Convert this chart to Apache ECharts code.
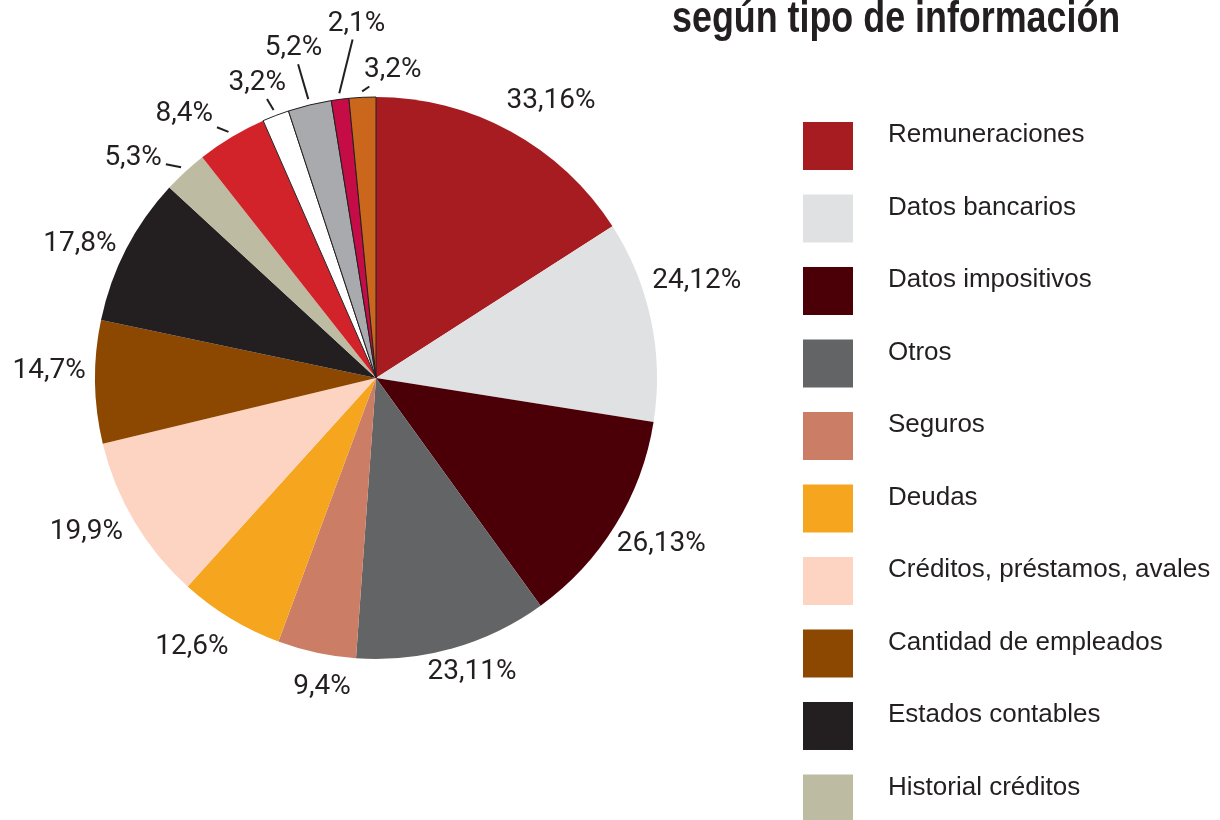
<!DOCTYPE html>
<html>
<head>
<meta charset="utf-8">
<script src="https://cdn.jsdelivr.net/npm/echarts@6/dist/echarts.min.js"></script>
<style>
  html, body { margin: 0; padding: 0; background: #fff; }
  #chart { width: 1220px; height: 820px; }
</style>
</head>
<body>
<div id="chart"></div>
<script>
const categories = [
    'Remuneraciones', 'Datos bancarios', 'Datos impositivos', 'Otros', 'Seguros',
    'Deudas', 'Créditos, préstamos, avales', 'Cantidad de empleados', 'Estados contables',
    'Historial créditos', 'Categoría 11', 'Categoría 12', 'Categoría 13', 'Categoría 14', 'Categoría 15'
];
const values = [33.16, 24.12, 26.13, 23.11, 9.4, 12.6, 19.9, 14.7, 17.8, 5.3, 8.4, 3.2, 5.2, 2.1, 3.2];
// solo las 10 primeras aparecen en la leyenda
const legendNames = categories.slice(0, 10);

const colors = [
    '#A71C20', '#E0E1E3', '#4B0008', '#636466', '#CC7D66',
    '#F6A51F', '#FDD3C1', '#8C4700', '#231F20', '#BDBBA2',
    '#D2232A', '#FFFFFF', '#A8AAAD', '#C60C46', '#CB671C'
];
// ajuste de etiquetas: [desvío de ángulo en grados, distancia fuera del borde en px]
const labelNudge = [
    [3.6, 47], [-4.9, 54], [-1.4, 49], [-2.2, 28], [-2.3, 33],
    [3.2, 45], [2.7, 47], [2.0, 46], [-2.9, 44], [-5.0, 47],
    [-5.1, 45], [-1.0, 37], [-0.4, 59], [4.2, 74], [5.9, 27]
];
const withLine = [9, 10, 11, 12, 13, 14];
const outlined = [11, 12, 13, 14];

const ink = '#231F20';
const chart = echarts.init(document.getElementById('chart'));

const pieData = categories.map((name, i) => {
    const item = { name, value: values[i], itemStyle: { color: colors[i] } };
    if (outlined.includes(i)) {
        item.itemStyle.borderColor = ink;
        item.itemStyle.borderWidth = 1;
    }
    if (withLine.includes(i)) {
        item.labelLine = { show: true };
    }
    return item;
});

chart.setOption({
    animation: false,
    backgroundColor: '#fff',
    graphic: [{
        type: 'text',
        x: 672,
        y: 20,
        scaleX: 0.815,
        style: {
            text: 'según tipo de información',
            font: 'bold 44px "Liberation Sans", Arial, sans-serif',
            fill: ink,
            align: 'left',
            verticalAlign: 'middle'
        }
    }],
    tooltip: { trigger: 'item' },
    legend: {
        data: legendNames,
        orient: 'vertical',
        left: 803,
        top: 122,
        height: 730,
        padding: 0,
        itemWidth: 50,
        itemHeight: 48,
        itemGap: 24.5,
        icon: 'rect',
        selectedMode: false,
        // segunda línea vacía: sube el texto respecto al cuadrado
        formatter: (name) => name + '\n ',
        textStyle: {
            fontFamily: '"Liberation Sans", Arial, sans-serif',
            fontSize: 26,
            lineHeight: 22,
            color: ink,
            padding: [0, 0, 0, 30]
        }
    },
    series: [{
        type: 'pie',
        center: [376, 378],
        radius: 281,
        startAngle: 90,
        clockwise: true,
        avoidLabelOverlap: false,
        label: {
            show: true,
            position: 'outside',
            fontFamily: 'Roboto, "Liberation Sans", sans-serif',
            fontSize: 28,
            color: ink,
            formatter: (p) => String(p.value).replace('.', ',') + '%'
        },
        labelLine: {
            show: false,
            lineStyle: { color: ink, width: 2 }
        },
        labelLayout: (params) => {
            const i = params.dataIndex;
            const lay = chart.getModel().getSeriesByIndex(0).getData().getItemLayout(i);
            const mid = (lay.startAngle + lay.endAngle) / 2;
            const a = mid + labelNudge[i][0] * Math.PI / 180;
            const d = lay.r + labelNudge[i][1];
            const x = lay.cx + Math.cos(a) * d;
            const y = lay.cy + Math.sin(a) * d;
            const out = { x, y, align: 'center', verticalAlign: 'middle' };
            if (withLine.includes(i)) {
                // línea recta desde el borde de la porción hasta la caja de la etiqueta
                const px = lay.cx + Math.cos(mid) * (lay.r + 6);
                const py = lay.cy + Math.sin(mid) * (lay.r + 6);
                const vx = x - px, vy = y - py;
                const hw = params.labelRect.width / 2 + 4;
                const hh = params.labelRect.height / 2 + 2;
                const s = Math.max(Math.abs(vx) / hw, Math.abs(vy) / hh, 1);
                out.labelLinePoints = [[px, py], [x - vx / s, y - vy / s]];
            }
            return out;
        },
        emphasis: { scale: false },
        data: pieData
    }]
});

window.addEventListener('resize', () => chart.resize());
</script>
</body>
</html>
